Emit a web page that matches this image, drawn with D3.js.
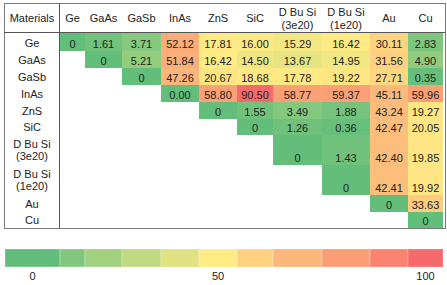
<!DOCTYPE html>
<html>
<head>
<meta charset="utf-8">
<script src="https://cdn.jsdelivr.net/npm/d3@7"></script>
<style>
  html, body { margin: 0; padding: 0; background: #fff; }
  svg { display: block; }
  text { font-family: "Liberation Sans", Arial, sans-serif; font-size: 11px; fill: #222; }
</style>
</head>
<body>
<svg id="chart" width="447" height="285"></svg>
<script>
// ---------------- DATA ----------------
const materials = ["Ge", "GaAs", "GaSb", "InAs", "ZnS", "SiC", "D Bu Si\n(3e20)", "D Bu Si\n(1e20)", "Au", "Cu"];
const headerLabel = "Materials";

// Upper-triangular rows (each starts at the diagonal)
const rowGe   = ["0", "1.61", "3.71", "52.12", "17.81", "16.00", "15.29", "16.42", "30.11", "2.83"];
const rowGaAs = ["0", "5.21", "51.84", "16.42", "14.50", "13.67", "14.95", "31.56", "4.90"];
const rowGaSb = ["0", "47.26", "20.67", "18.68", "17.78", "19.22", "27.71", "0.35"];
const rowInAs = ["0.00", "58.80", "90.50", "58.77", "59.37", "45.11", "59.96"];
const rowZnS  = ["0", "1.55", "3.49", "1.88", "43.24", "19.27"];
const rowSiC  = ["0", "1.26", "0.36", "42.47", "20.05"];
const rowDBS3 = ["0", "1.43", "42.40", "19.85"];
const rowDBS1 = ["0", "42.41", "19.92"];
const rowAu   = ["0", "33.63"];
const rowCu   = ["0"];
const rows = [rowGe, rowGaAs, rowGaSb, rowInAs, rowZnS, rowSiC, rowDBS3, rowDBS1, rowAu, rowCu];

const legendValues = [0, 10, 20, 30, 40, 50, 60, 70, 80, 90, 100];
const legendTickLabels = ["0", "50", "100"];
const legendTickValues = [0, 50, 100];

// ---------------- LAYOUT ----------------
const colWidths = [56, 25, 37, 39, 38, 38, 36, 49, 48, 38, 35]; // label column + 10 material columns
const rowHeights = [30, 18, 17, 17, 17, 17, 16, 30, 30, 17, 16]; // header + 10 rows
const leftX = 4, topY = 3, rightEdge = 445;
const colorLow = "#63BE7B", colorMid = "#FFEB84", colorHigh = "#F8696B";

const svg = d3.select("#chart");

const colEdges = [leftX];
colWidths.forEach(w => colEdges.push(colEdges[colEdges.length - 1] + w));
const rowEdges = [topY];
rowHeights.forEach(h => rowEdges.push(rowEdges[rowEdges.length - 1] + h));

const xCol = d3.scaleOrdinal().domain(materials).range(colEdges.slice(1, 11));
const wCol = d3.scaleOrdinal().domain(materials).range(colWidths.slice(1));
const yRow = d3.scaleOrdinal().domain(materials).range(rowEdges.slice(1, 11));
const hRow = d3.scaleOrdinal().domain(materials).range(rowHeights.slice(1));

// cells
const cells = [];
rows.forEach((r, i) => {
  r.forEach((label, k) => {
    const j = i + k;
    cells.push({ row: materials[i], col: materials[j], label, value: +label });
  });
});
const allVals = cells.map(d => d.value);
const color = d3.scaleLinear()
  .domain([d3.min(allVals), d3.median(allVals), d3.max(allVals)])
  .range([colorLow, colorMid, colorHigh]);

const g = svg.append("g");

g.selectAll("rect.cell").data(cells).join("rect")
  .attr("class", "cell")
  .attr("x", d => xCol(d.col))
  .attr("y", d => yRow(d.row))
  .attr("width", d => wCol(d.col))
  .attr("height", d => hRow(d.row))
  .attr("fill", d => color(d.value));

g.selectAll("text.val").data(cells).join("text")
  .attr("class", "val")
  .attr("x", d => xCol(d.col) + wCol(d.col) / 2)
  .attr("y", d => yRow(d.row) + hRow(d.row) - 3.5)
  .attr("text-anchor", "middle")
  .text(d => d.label);

// header
const header = g.append("g");
header.append("text")
  .attr("x", (colEdges[0] + colEdges[1]) / 2)
  .attr("y", topY + 19)
  .attr("text-anchor", "middle")
  .text(headerLabel);
materials.forEach(m => {
  const lines = m.split("\n");
  const cx = xCol(m) + wCol(m) / 2;
  const t = header.append("text").attr("text-anchor", "middle");
  if (lines.length === 1) {
    t.append("tspan").attr("x", cx).attr("y", topY + 19).text(lines[0]);
  } else {
    lines.forEach((ln, li) => t.append("tspan").attr("x", cx).attr("y", topY + 13 + li * 13).text(ln));
  }
});

// row labels
const rl = g.append("g");
materials.forEach(m => {
  const lines = m.split("\n");
  const cx = (colEdges[0] + colEdges[1]) / 2;
  const t = rl.append("text").attr("text-anchor", "middle");
  if (lines.length === 1) {
    t.append("tspan").attr("x", cx).attr("y", yRow(m) + hRow(m) - 4.5).text(lines[0]);
  } else {
    const cy = yRow(m) + hRow(m) / 2;
    lines.forEach((ln, li) => t.append("tspan").attr("x", cx).attr("y", cy - 6.5 + 4 + li * 12.5).text(ln));
  }
});

// table lines
const tableBottom = rowEdges[rowEdges.length - 1];
g.append("rect")
  .attr("x", leftX + 0.5).attr("y", topY + 0.5)
  .attr("width", rightEdge - leftX).attr("height", tableBottom - topY)
  .attr("fill", "none").attr("stroke", "#7a7a7a").attr("stroke-width", 1);
g.append("line")
  .attr("x1", leftX).attr("x2", rightEdge)
  .attr("y1", rowEdges[1] - 0.5).attr("y2", rowEdges[1] - 0.5)
  .attr("stroke", "#555").attr("stroke-width", 1);
g.append("line")
  .attr("x1", colEdges[1] - 0.5).attr("x2", colEdges[1] - 0.5)
  .attr("y1", topY).attr("y2", tableBottom)
  .attr("stroke", "#555").attr("stroke-width", 1);

// ---------------- LEGEND ----------------
const legendColor = d3.scaleLinear().domain([0, 50, 100]).range([colorLow, colorMid, colorHigh]);
const legX0 = 5, legY = 249, legH = 18;
const legEdges = [legX0].concat(colEdges.slice(1));
const legX = d3.scaleOrdinal().domain(legendValues).range(legEdges.slice(0, 11));
const legW = d3.scaleOrdinal().domain(legendValues).range(legEdges.slice(1).map((e, i) => e - legEdges[i]));

const leg = svg.append("g");
leg.selectAll("rect").data(legendValues).join("rect")
  .attr("x", d => legX(d)).attr("y", legY)
  .attr("width", d => legW(d)).attr("height", legH)
  .attr("fill", d => legendColor(d))
  .attr("stroke", "rgba(255,255,255,0.35)").attr("stroke-width", 0.8);
leg.selectAll("text").data(legendTickValues).join("text")
  .attr("x", d => legX(d) + legW(d) / 2)
  .attr("y", legY + 31)
  .attr("text-anchor", "middle")
  .text((d, i) => legendTickLabels[i]);
</script>
</body>
</html>
